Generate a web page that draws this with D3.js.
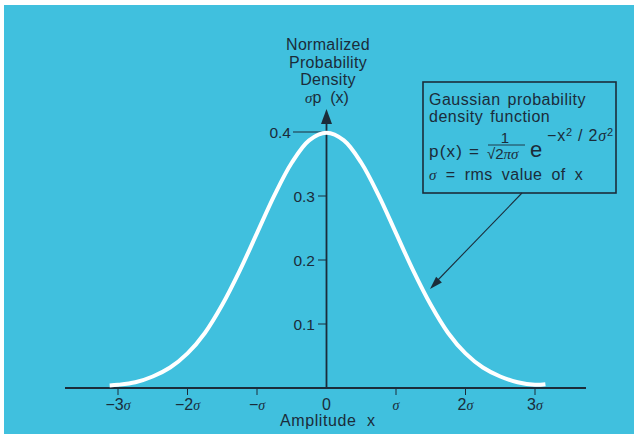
<!DOCTYPE html>
<html>
<head>
<meta charset="utf-8">
<script src="https://cdn.jsdelivr.net/npm/d3@7/dist/d3.min.js"></script>
<style>
html,body{margin:0;padding:0;background:#fff;}
svg{display:block;}
text{font-family:"Liberation Sans",Arial,Helvetica,sans-serif;fill:#1b2c3a;}
.ser{font-family:"Liberation Serif","Times New Roman",serif;font-style:italic;}
</style>
</head>
<body>
<svg id="c" width="634" height="438"></svg>
<script>
// ---- data ----
const xSigma = [-3.12,-3,-2.75,-2.5,-2.25,-2,-1.75,-1.5,-1.25,-1,-0.75,-0.5,-0.25,0,0.25,0.5,0.75,1,1.25,1.5,1.75,2,2.25,2.5,2.75,3,3.15];
const density = [0.004,0.005,0.009,0.018,0.032,0.054,0.086,0.130,0.183,0.242,0.301,0.352,0.387,0.399,0.387,0.352,0.301,0.242,0.183,0.130,0.086,0.054,0.032,0.018,0.009,0.005,0.006];
const xTicks = [-3,-2,-1,0,1,2,3];
const xTickNum = ["\u22123","\u22122","\u2212","0","","2","3"];
const yTicks = [0.1,0.2,0.3,0.4];
const yTitle = ["Normalized","Probability","Density"];
const boxLines = ["Gaussian probability","density function"];

const svg = d3.select("#c");
const ink = "#1b2c3a";

// background
svg.append("rect").attr("x",4).attr("y",5).attr("width",630).attr("height",429).attr("fill","#40c0de");

const x = d3.scaleLinear().domain([-3,3]).range([118,535]);
const y = d3.scaleLinear().domain([0,0.4]).range([388,132]);

// x axis line
svg.append("line").attr("x1",65).attr("x2",586).attr("y1",y(0)).attr("y2",y(0))
  .attr("stroke",ink).attr("stroke-width",1.8);

// x ticks
const xa = svg.append("g");
xTicks.forEach((t,i)=>{
  if (t!==0) xa.append("line").attr("x1",x(t)).attr("x2",x(t)).attr("y1",y(0)).attr("y2",y(0)+7)
    .attr("stroke",ink).attr("stroke-width",1);
  const tx = xa.append("text").attr("x",x(t)).attr("y",410).attr("text-anchor","middle").attr("font-size",16);
  tx.append("tspan").text(xTickNum[i]);
  if (t!==0) tx.append("tspan").attr("class","ser").attr("font-size",14).text("\u03c3");
});

// y axis with arrow
svg.append("line").attr("x1",x(0)).attr("x2",x(0)).attr("y1",y(0)).attr("y2",120)
  .attr("stroke",ink).attr("stroke-width",1.8);
svg.append("path").attr("d",`M${x(0)},109 L${x(0)-5.5},124 L${x(0)+5.5},124 Z`).attr("fill",ink);

// y ticks
const ya = svg.append("g");
yTicks.forEach(t=>{
  const long = t===0.4;
  ya.append("line").attr("x1",long?293:318).attr("x2",x(0)).attr("y1",y(t)).attr("y2",y(t))
    .attr("stroke",ink).attr("stroke-width",1);
  ya.append("text").attr("x",long?291:315).attr("y",y(t)+5.5).attr("text-anchor","end")
    .attr("font-size",15.5).text(t.toFixed(1));
});

// y title
yTitle.forEach((s,i)=>{
  svg.append("text").attr("x",328).attr("y",50+i*17.5).attr("text-anchor","middle")
    .attr("font-size",16).attr("letter-spacing",0.3).text(s);
});
const yt = svg.append("text").attr("x",327).attr("y",102.5).attr("text-anchor","middle").attr("font-size",16);
yt.append("tspan").attr("class","ser").attr("font-size",15).text("\u03c3");
yt.append("tspan").text("p\u00a0\u00a0(x)");

// curve
const line = d3.line().x((d,i)=>x(xSigma[i])).y(d=>y(d)).curve(d3.curveCatmullRom);
svg.append("path").datum(density).attr("d",line).attr("fill","none")
  .attr("stroke","#fff").attr("stroke-width",4).attr("stroke-linecap","butt");

// x label
const xl = svg.append("text").attr("x",280).attr("y",426).attr("font-size",16).attr("letter-spacing",0.6);
xl.append("tspan").text("Amplitude");
xl.append("tspan").attr("x",367).text("x");

// annotation box
svg.append("rect").attr("x",423).attr("y",82).attr("width",193).attr("height",111)
  .attr("fill","none").attr("stroke",ink).attr("stroke-width",1.6);
boxLines.forEach((s,i)=>{
  svg.append("text").attr("x",429).attr("y",105+i*17).attr("font-size",16)
    .attr("letter-spacing",0.5).attr("word-spacing",2).text(s);
});
// formula
svg.append("text").attr("x",429).attr("y",157).attr("font-size",17).attr("letter-spacing",1.2).text("p(x) =");
svg.append("text").attr("x",505).attr("y",143).attr("text-anchor","middle").attr("font-size",15)
  .attr("font-family","Liberation Serif, serif").text("1");
svg.append("line").attr("x1",488).attr("x2",525).attr("y1",145).attr("y2",145).attr("stroke",ink).attr("stroke-width",0.9);
const den = svg.append("text").attr("x",487).attr("y",159).attr("font-size",15);
den.append("tspan").text("\u221a2");
den.append("tspan").attr("class","ser").text("\u03c0\u03c3");
svg.append("text").attr("x",530).attr("y",157).attr("font-size",22).text("e");
const ex = svg.append("text").attr("x",547).attr("y",141).attr("font-size",16).attr("letter-spacing",0.8);
ex.append("tspan").text("\u2212x");
ex.append("tspan").attr("font-size",11).attr("dy",-5).text("2");
ex.append("tspan").attr("dy",5).text("\u00a0/\u00a02");
ex.append("tspan").attr("class","ser").text("\u03c3");
ex.append("tspan").attr("font-size",11).attr("dy",-5).text("2");
const sl = svg.append("text").attr("x",429).attr("y",180).attr("font-size",16)
  .attr("letter-spacing",0.5).attr("word-spacing",4);
sl.append("tspan").attr("class","ser").attr("font-size",15).text("\u03c3");
sl.append("tspan").text(" = rms value of x");

// leader arrow
svg.append("line").attr("x1",522).attr("y1",193).attr("x2",436).attr("y2",282)
  .attr("stroke",ink).attr("stroke-width",1.1);
const ang = Math.atan2(289-193,430-522);
const tip=[430,289], L=13, W=4;
const bx = tip[0]-L*Math.cos(ang), by = tip[1]-L*Math.sin(ang);
const px = -Math.sin(ang)*W, py = Math.cos(ang)*W;
svg.append("path").attr("d",`M${tip[0]},${tip[1]} L${bx+px},${by+py} L${bx-px},${by-py} Z`).attr("fill",ink);
</script>
</body>
</html>
